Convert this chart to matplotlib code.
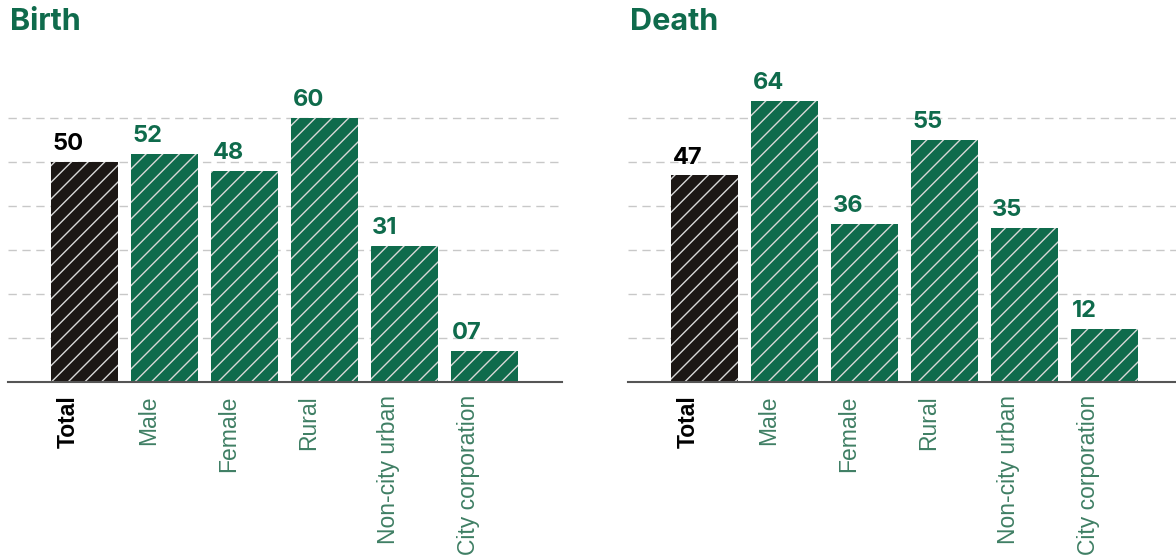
import matplotlib.pyplot as plt
from matplotlib.transforms import ScaledTranslation

categories = ["Total", "Male", "Female", "Rural", "Non-city urban", "City corporation"]
birth = [50, 52, 48, 60, 31, 7]
death = [47, 64, 36, 55, 35, 12]
titles = ["Birth", "Death"]

GREEN = "#0f6b4c"
BLACK = "#1c1715"
LABEL_GREEN = "#3f7f64"

plt.rcParams["hatch.linewidth"] = 1.0

fig = plt.figure(figsize=(11.76, 5.59), dpi=100)

W, H = 1176, 559


def panel(left_px, values, title):
    ax = fig.add_axes([left_px / W, (H - 382) / H, 554 / W, 290 / H])
    colors = [BLACK] + [GREEN] * (len(values) - 1)
    x = range(len(values))
    ax.bar(x, values, width=0.84, color=colors, edgecolor="#d8d8d8",
           linewidth=0, hatch="//", zorder=2)
    for xi, v, c in zip(x, values, colors):
        ax.annotate(f"{v:02d}", (xi - 0.42, v), xytext=(1, 5), textcoords="offset points",
                    ha="left", va="bottom", fontsize=17, fontweight="bold",
                    family="Inter", color=c if c == GREEN else "black",
                    annotation_clip=False)
    ax.set_xlim(-0.96, len(values) - 0.03)
    ax.set_ylim(0, 66)
    ax.set_yticks(range(10, 61, 10))
    ax.yaxis.grid(True, color="#c8c8c8", linestyle=(0, (6, 4)), linewidth=1.0, zorder=0)
    ax.set_axisbelow(True)
    ax.tick_params(left=False, labelleft=False, bottom=False, pad=6)
    ax.set_xticks(list(x))
    ax.set_xticklabels(categories, rotation=90, fontsize=16.5, family="Liberation Sans",
                       va="top", ha="center")
    shift = ScaledTranslation(-16 / 100, 0, fig.dpi_scale_trans)
    for i, lbl in enumerate(ax.get_xticklabels()):
        lbl.set_transform(lbl.get_transform() + shift)
        if i == 0:
            lbl.set_color("black")
            lbl.set_fontweight("bold")
        else:
            lbl.set_color(LABEL_GREEN)
    for s in ["top", "right", "left"]:
        ax.spines[s].set_visible(False)
    ax.spines["bottom"].set_color("#555555")
    ax.spines["bottom"].set_linewidth(1.5)
    ax.spines["bottom"].set_zorder(3)
    fig.text((left_px + 2) / W, 1 - 8 / H, title, ha="left", va="top",
             fontsize=22, fontweight="bold", family="Inter", color=GREEN)
    return ax


panel(8, birth, titles[0])
panel(628, death, titles[1])

fig.savefig("out.png", dpi=100)
